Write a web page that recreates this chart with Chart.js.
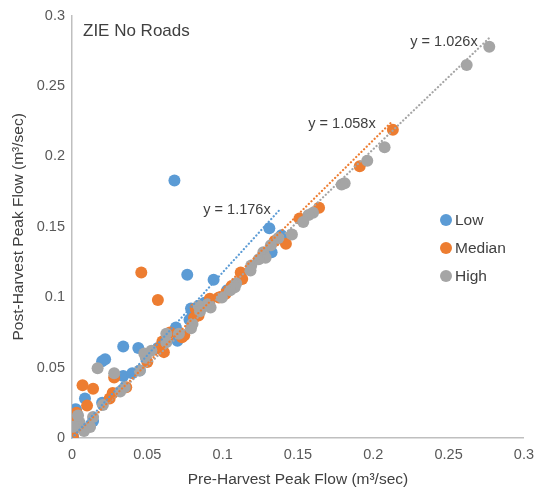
<!DOCTYPE html>
<html>
<head>
<meta charset="utf-8">
<script src="https://cdn.jsdelivr.net/npm/chart.js@4.4.1/dist/chart.umd.min.js"></script>
<style>
    html, body { margin: 0; padding: 0; background: #fff; }
    #wrap { width: 542px; height: 495px; }
</style>
</head>
<body>
<div id="wrap"><canvas id="myChart" width="542" height="495"></canvas></div>
<script>
// pre-harvest vs post-harvest peak flow, m3/sec
const lowX = [0.068, 0.0765, 0.094, 0.131, 0.1325, 0.139, 0.103, 0.079, 0.080, 0.078, 0.069, 0.070,
    0.034, 0.044, 0.057, 0.022, 0.020, 0.034, 0.040, 0.045, 0.020, 0.0086, 0.0026, 0.001, 0.0007,
    0.006, 0.014, 0.088];
const lowY = [0.183, 0.116, 0.1125, 0.149, 0.132, 0.144, 0.105, 0.092, 0.087, 0.084, 0.0785, 0.069,
    0.065, 0.064, 0.064, 0.056, 0.0545, 0.044, 0.046, 0.048, 0.025, 0.028, 0.0205, 0.0155, 0.001,
    0.008, 0.012, 0.096];

const medianX = [0.046, 0.057, 0.007, 0.014, 0.010, 0.003, 0.002, 0.000, 0.001, 0.0005, 0.028, 0.027,
    0.025, 0.036, 0.050, 0.058, 0.061, 0.060, 0.065, 0.073, 0.0745, 0.081, 0.082, 0.084, 0.091,
    0.0915, 0.0975, 0.102, 0.106, 0.112, 0.113, 0.1345, 0.142, 0.151, 0.164, 0.191, 0.213];
const medianY = [0.1175, 0.098, 0.0375, 0.035, 0.023, 0.018, 0.0155, 0.004, 0.008, 0.001, 0.043, 0.032,
    0.028, 0.036, 0.054, 0.064, 0.061, 0.0685, 0.075, 0.0715, 0.073, 0.0855, 0.092, 0.087, 0.096,
    0.099, 0.0998, 0.1025, 0.108, 0.1175, 0.113, 0.140, 0.138, 0.156, 0.1635, 0.193, 0.219];

const highX = [0.277, 0.262, 0.2075, 0.196, 0.181, 0.179, 0.160, 0.157, 0.1535, 0.146, 0.137, 0.132,
    0.127, 0.1285, 0.124, 0.119, 0.1185, 0.109, 0.108, 0.105, 0.0995, 0.092, 0.090, 0.084, 0.085,
    0.080, 0.079, 0.071, 0.0626, 0.0626, 0.0527, 0.049, 0.048, 0.045, 0.028, 0.017, 0.035, 0.032,
    0.0205, 0.014, 0.012, 0.005, 0.004, 0.001, 0.008];
const highY = [0.278, 0.265, 0.2065, 0.197, 0.181, 0.180, 0.160, 0.1585, 0.1535, 0.1445, 0.142, 0.137,
    0.132, 0.128, 0.127, 0.1225, 0.119, 0.110, 0.107, 0.105, 0.0998, 0.0927, 0.095, 0.094, 0.090,
    0.081, 0.078, 0.074, 0.074, 0.068, 0.062, 0.057, 0.060, 0.048, 0.046, 0.0495, 0.036, 0.033,
    0.0235, 0.015, 0.0078, 0.011, 0.016, 0.008, 0.005];

// linear trendlines through the origin
const seriesNames = ['Low', 'Median', 'High'];
const trendSlopes = [1.176, 1.058, 1.026];
const trendEnds = [0.138, 0.213, 0.277];
const tickValues = [0, 0.05, 0.1, 0.15, 0.2, 0.25, 0.3];

const colors = ['#5B9BD5', '#ED7D31', '#A5A5A5'];
const textColor = '#404040';
const tickColor = '#595959';
const font = "'Liberation Sans', Arial, sans-serif";

const toPoints = (xs, ys) => xs.map((x, i) => ({x: x, y: ys[i]}));
const seriesPoints = [toPoints(lowX, lowY), toPoints(medianX, medianY), toPoints(highX, highY)];

let datasets = [];
seriesNames.forEach((name, i) => {
    datasets.push({
        label: name,
        type: 'scatter',
        data: seriesPoints[i],
        backgroundColor: colors[i],
        borderColor: colors[i],
        pointRadius: 6,
        pointHoverRadius: 6,
        borderWidth: 0,
        order: 3 - i + 1,
    });
});
seriesNames.forEach((name, i) => {
    datasets.push({
        label: name + ' trend',
        type: 'line',
        data: [{x: 0, y: 0}, {x: trendEnds[i], y: trendEnds[i] * trendSlopes[i]}],
        borderColor: colors[i],
        borderWidth: 2.2,
        borderDash: [0.1, 3.6],
        borderCapStyle: 'round',
        pointRadius: 0,
        fill: false,
        order: 0,
    });
});

// chart title, trendline equations and the legend block
const annotations = {
    id: 'annotations',
    afterDatasetsDraw(chart) {
        const ctx = chart.ctx;
        ctx.save();
        ctx.fillStyle = textColor;
        ctx.textBaseline = 'middle';

        ctx.font = '17px ' + font;
        ctx.textAlign = 'left';
        ctx.fillText('ZIE No Roads', 83, 31);

        ctx.font = '14.5px ' + font;
        ctx.textAlign = 'center';
        const eqPos = [[237, 210], [342, 124], [444, 42]];
        trendSlopes.forEach((s, i) => {
            ctx.fillText('y = ' + s.toFixed(3) + 'x', eqPos[i][0], eqPos[i][1]);
        });

        ctx.font = '15.5px ' + font;
        ctx.textAlign = 'left';
        seriesNames.forEach((name, i) => {
            const y = 220 + i * 28;
            ctx.beginPath();
            ctx.arc(446, y, 6, 0, Math.PI * 2);
            ctx.fillStyle = colors[i];
            ctx.fill();
            ctx.fillStyle = textColor;
            ctx.fillText(name, 455, y + 1);
        });
        ctx.restore();
    }
};

const axisTicks = {
    color: tickColor,
    font: {family: font, size: 14.5},
    callback: v => String(+(+v).toFixed(2)),
};

new Chart(document.getElementById('myChart'), {
    type: 'scatter',
    data: {datasets: datasets},
    options: {
        responsive: false,
        animation: false,
        layout: {padding: {top: 14, right: 15, left: 0, bottom: 0}},
        plugins: {
            legend: {display: false},
            tooltip: {enabled: false},
        },
        scales: {
            x: {
                type: 'linear',
                min: 0,
                max: 0.3,
                afterBuildTicks: scale => { scale.ticks = tickValues.map(v => ({value: v})); },
                afterFit: scale => { scale.height = 57; },
                grid: {display: false, drawTicks: false},
                border: {display: true, color: '#BFBFBF', width: 1.5},
                ticks: Object.assign({padding: 8, maxRotation: 0}, axisTicks),
                title: {
                    display: true,
                    text: 'Pre-Harvest Peak Flow (m³/sec)',
                    color: textColor,
                    font: {family: font, size: 15.5},
                    padding: {top: 4, bottom: 6},
                },
            },
            y: {
                type: 'linear',
                min: 0,
                max: 0.3,
                afterBuildTicks: scale => { scale.ticks = tickValues.map(v => ({value: v})); },
                afterFit: scale => { scale.width = 72; },
                grid: {display: false, drawTicks: false},
                border: {display: true, color: '#BFBFBF', width: 1.5},
                ticks: Object.assign({padding: 7}, axisTicks),
                title: {
                    display: true,
                    text: 'Post-Harvest Peak Flow (m³/sec)',
                    color: textColor,
                    font: {family: font, size: 15.5},
                    padding: {top: 9, bottom: 4},
                },
            },
        },
    },
    plugins: [annotations],
});
</script>
</body>
</html>
